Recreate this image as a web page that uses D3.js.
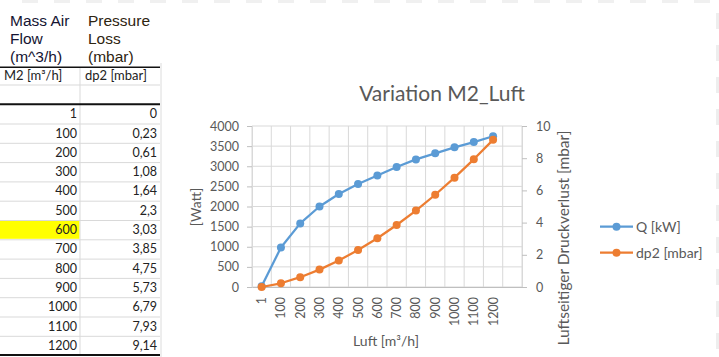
<!DOCTYPE html>
<html><head><meta charset="utf-8">
<script src="https://cdn.jsdelivr.net/npm/d3@7"></script>
<style>
html,body{margin:0;padding:0;background:#fff;}
svg{display:block;}
</style></head>
<body>
<svg id="c" width="719" height="357"></svg>
<script>
// ---- data ----
const categories = ["1","100","200","300","400","500","600","700","800","900","1000","1100","1200"];
const flowValues = [1,100,200,300,400,500,600,700,800,900,1000,1100,1200];
const dp2Values = [0,0.23,0.61,1.08,1.64,2.3,3.03,3.85,4.75,5.73,6.79,7.93,9.14];
const qValues = [20,980,1580,2000,2310,2560,2770,2980,3170,3320,3470,3600,3745];
const leftTicks = [0,500,1000,1500,2000,2500,3000,3500,4000];
const rightTicks = [0,2,4,6,8,10];
const seriesNames = ["Q [kW]","dp2 [mbar]"];
const headerA = ["Mass Air","Flow","(m^3/h)"];
const headerB = ["Pressure","Loss","(mbar)"];
const subHeader = ["M2 [m³/h]","dp2 [mbar]"];

const svg = d3.select("#c");
const W = 719, H = 357;
svg.append("rect").attr("width",W).attr("height",H).attr("fill","#fff");

// faint spreadsheet remnants
for(let x=22; x<W; x+=32){ svg.append("rect").attr("x",x).attr("y",0).attr("width",16).attr("height",3).attr("fill","#f0f0f0"); }
for(let y=13; y<H; y+=32){ svg.append("rect").attr("x",716).attr("y",y).attr("width",3).attr("height",16).attr("fill","#eeeeee"); }

// ---- table ----
const tbl = svg.append("g");
const rowTop = 104.7, rowH = 19.3;
const tableFont = "Lato, 'Open Sans', sans-serif";
const hiIdx = categories.indexOf("600");
tbl.append("rect").attr("x",0).attr("y",rowTop+hiIdx*rowH).attr("width",79.5).attr("height",rowH-1).attr("fill","#ffff00");
for(let i=1;i<categories.length;i++){
  tbl.append("line").attr("x1",0).attr("x2",160).attr("y1",rowTop+i*rowH).attr("y2",rowTop+i*rowH).attr("stroke","#d9d9d9").attr("stroke-width",1);
}
tbl.append("line").attr("x1",0).attr("x2",160).attr("y1",85).attr("y2",85).attr("stroke","#d9d9d9");
tbl.append("line").attr("x1",80).attr("x2",80).attr("y1",67).attr("y2",355).attr("stroke","#d9d9d9");
tbl.append("line").attr("x1",161).attr("x2",161).attr("y1",63).attr("y2",H).attr("stroke","#dcdcdc");
[[67.3,1.6],[104.3,2],[355,2]].forEach(([y,w])=>{
  tbl.append("line").attr("x1",0).attr("x2",160).attr("y1",y).attr("y2",y).attr("stroke","#111").attr("stroke-width",w);
});
headerA.forEach((t,i)=>tbl.append("text").attr("x",10).attr("y",26+i*18.2).attr("font-family","'Liberation Sans', Arial, sans-serif").attr("font-size",15.5).attr("fill","#141432").text(t));
headerB.forEach((t,i)=>tbl.append("text").attr("x",88).attr("y",26+i*18.2).attr("font-family","'Liberation Sans', Arial, sans-serif").attr("font-size",15.5).attr("fill","#2e2410").text(t));
tbl.append("text").attr("x",4).attr("y",80).attr("font-family",tableFont).attr("font-size",13).attr("fill","#222").text(subHeader[0]);
tbl.append("text").attr("x",85).attr("y",80).attr("font-family",tableFont).attr("font-size",13).attr("fill","#222").text(subHeader[1]);
flowValues.forEach((v,i)=>{
  tbl.append("text").attr("x",77).attr("y",rowTop+i*rowH+13.5).attr("text-anchor","end").attr("font-family",tableFont).attr("font-size",12.5).attr("fill","#222").text(String(v));
});
dp2Values.forEach((v,i)=>{
  tbl.append("text").attr("x",157).attr("y",rowTop+i*rowH+13.5).attr("text-anchor","end").attr("font-family",tableFont).attr("font-size",12.5).attr("fill","#222").text(String(v).replace(".",","));
});

// ---- chart ----
const font = "Lato, 'Open Sans', sans-serif";
const grey = "#595959";
const x0 = 252, x1 = 522, yTop = 126, yBot = 287;
const x = d3.scaleBand().domain(categories.concat([" "])).range([x0,x1]);
const yL = d3.scaleLinear().domain([0,4000]).range([yBot,yTop]);
const yR = d3.scaleLinear().domain([0,10]).range([yBot,yTop]);
const g = svg.append("g");

leftTicks.forEach(t=>g.append("line").attr("x1",x0).attr("x2",x1).attr("y1",yL(t)).attr("y2",yL(t)).attr("stroke","#d9d9d9"));
x.domain().forEach(c=>g.append("line").attr("x1",x(c)).attr("x2",x(c)).attr("y1",yTop).attr("y2",yBot).attr("stroke","#d9d9d9"));
g.append("line").attr("x1",x1).attr("x2",x1).attr("y1",yTop).attr("y2",yBot).attr("stroke","#d9d9d9");

const axL = d3.axisLeft(yL).tickValues(leftTicks).tickFormat(d3.format("d")).tickSize(5).tickPadding(8);
const gL = g.append("g").attr("transform",`translate(${x0},0)`).call(axL);
const axR = d3.axisRight(yR).tickValues(rightTicks).tickFormat(d3.format("d")).tickSize(5).tickPadding(9);
const gR = g.append("g").attr("transform",`translate(${x1},0)`).call(axR);
const axB = d3.axisBottom(x).tickSize(0).tickPadding(0);
const gB = g.append("g").attr("transform",`translate(0,${yBot})`).call(axB);
[gL,gR,gB].forEach(a=>{
  a.select(".domain").attr("stroke","#bfbfbf");
  a.selectAll(".tick line").attr("stroke","#bfbfbf");
  a.selectAll("text").attr("fill",grey).attr("font-family",font).attr("font-size",12.5);
});
gL.select(".domain").attr("stroke","#d9d9d9");
gR.select(".domain").attr("stroke","#d9d9d9");
gB.selectAll(".tick text")
  .attr("transform","rotate(-90)")
  .attr("text-anchor","end")
  .attr("x",-10).attr("y",0).attr("dy","0.36em");

svg.append("text").attr("x",442).attr("y",101).attr("text-anchor","middle").attr("font-family",font).attr("font-size",21).attr("fill",grey).text("Variation M2_Luft");
svg.append("text").attr("transform","translate(201,207) rotate(-90)").attr("text-anchor","middle").attr("font-family",font).attr("font-size",14).attr("fill",grey).text("[Watt]");
svg.append("text").attr("transform","translate(569,238) rotate(-90)").attr("text-anchor","middle").attr("font-family",font).attr("font-size",15.5).attr("fill",grey).text("Luftseitiger Druckverlust [mbar]");
svg.append("text").attr("x",386).attr("y",346).attr("text-anchor","middle").attr("font-family",font).attr("font-size",14).attr("fill",grey).text("Luft [m³/h]");

const colors = ["#5b9bd5","#ed7d31"];
const cx = c=>x(c)+x.bandwidth()/2;
const series = [
  {name:seriesNames[0], vals:qValues, y:yL, color:colors[0]},
  {name:seriesNames[1], vals:dp2Values, y:yR, color:colors[1]}
];
series.forEach(s=>{
  const line = d3.line().x((d,i)=>cx(categories[i])).y(d=>s.y(d));
  g.append("path").attr("d",line(s.vals)).attr("fill","none").attr("stroke",s.color).attr("stroke-width",2.25).attr("stroke-linejoin","round");
  g.selectAll(null).data(s.vals).enter().append("circle")
    .attr("cx",(d,i)=>cx(categories[i])).attr("cy",d=>s.y(d)).attr("r",4).attr("fill",s.color);
});

series.forEach((s,i)=>{
  const ly = 226.7 + i*26;
  svg.append("line").attr("x1",600).attr("x2",633).attr("y1",ly).attr("y2",ly).attr("stroke",s.color).attr("stroke-width",2.25);
  svg.append("circle").attr("cx",616.5).attr("cy",ly).attr("r",4).attr("fill",s.color);
  svg.append("text").attr("x",636).attr("y",ly+5).attr("font-family",font).attr("font-size",14).attr("fill",grey).text(s.name);
});
</script>
</body></html>
